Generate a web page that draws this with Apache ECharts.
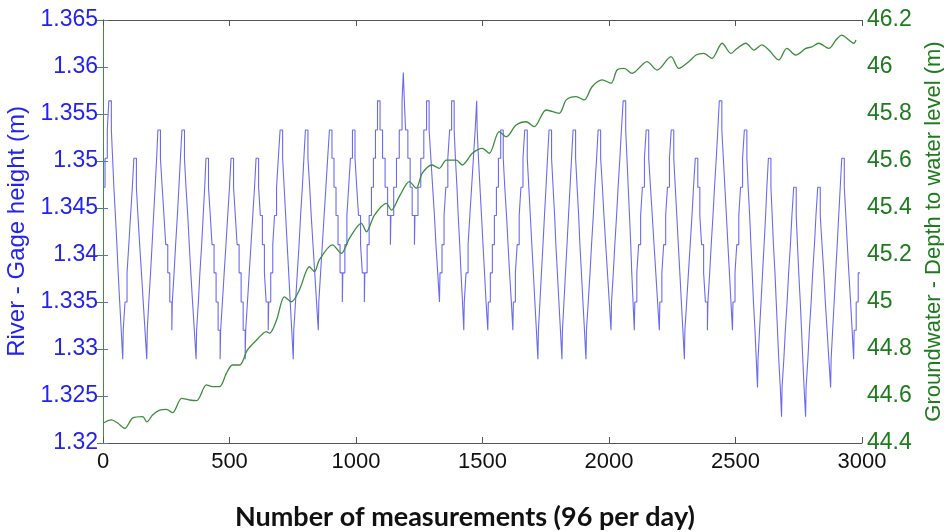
<!DOCTYPE html>
<html>
<head>
<meta charset="utf-8">
<script src="https://cdn.jsdelivr.net/npm/echarts@6/dist/echarts.min.js"></script>
<style>
  html, body { margin: 0; padding: 0; background: #ffffff; }
  #chart { width: 944px; height: 532px; }
</style>
</head>
<body>
<div id="chart"></div>
<script>
// ---- data ----
const xTicks = [0, 500, 1000, 1500, 2000, 2500, 3000];
const gageTicks = [1.32, 1.325, 1.33, 1.335, 1.34, 1.345, 1.35, 1.355, 1.36, 1.365];
const depthTicks = [44.4, 44.6, 44.8, 45, 45.2, 45.4, 45.6, 45.8, 46, 46.2];

// River gage height levels (m), recorded in steps of 0.01 ft
const gageLevels = [1.3228, 1.3259, 1.3289, 1.3320, 1.3350, 1.3381, 1.3411,
                    1.3442, 1.3472, 1.3503, 1.3533, 1.3564, 1.3594];

// River gage: [measurement number, level index] at each step change
const gageSteps = [
  [0,8],[8,9],[17,10],[23,11],
  [33,10],[38,9],[43,8],[49,7],[55,6],[60,5],[66,4],[72,3],[78,2],
  [80,3],[87,4],[95,5],[102,6],[109,7],[116,8],[122,9],
  [132,8],[138,7],[145,6],[152,5],[159,4],[166,3],[173,2],
  [175,3],[181,4],[188,5],[194,6],[200,7],[206,8],[212,9],[217,10],
  [227,9],[234,8],[241,7],[248,6],[256,5],[264,4],[272,3],
  [274,4],[281,5],[287,6],[294,7],[300,8],[306,9],[312,10],
  [322,9],[328,8],[335,7],[341,6],[347,5],[354,4],[361,3],[368,2],
  [370,3],[377,4],[383,5],[390,6],[396,7],[402,8],[407,9],
  [417,8],[424,7],[431,6],[439,5],[447,4],[455,3],[463,2],
  [465,3],[472,4],[479,5],[486,6],[493,7],[500,8],[506,9],
  [516,8],[523,7],[530,6],[538,5],[546,4],[554,3],[562,2],
  [564,3],[571,4],[578,5],[585,6],[592,7],[599,8],[605,9],
  [615,8],[622,7],[630,6],[638,5],[645,4],[653,3],
  [655,4],[663,5],[671,6],[678,7],[686,8],[693,9],[700,10],
  [710,9],[716,8],[722,7],[728,6],[734,5],[740,4],[746,3],[752,2],
  [754,3],[761,4],[768,5],[775,6],[781,7],[788,8],[794,9],[800,10],
  [810,9],[817,8],[823,7],[830,6],[837,5],[844,4],[851,3],
  [853,4],[860,5],[867,6],[874,7],[881,8],[888,9],[895,10],
  [905,9],[913,8],[921,7],[929,6],[937,5],[946,4],
  [948,5],[956,6],[964,7],[971,8],[978,9],[986,10],
  [996,9],[1003,8],[1010,7],[1018,6],[1025,5],[1033,4],
  [1035,5],[1044,6],[1052,7],[1061,8],[1069,9],[1077,10],[1085,11],
  [1095,10],[1105,9],[1115,8],[1125,7],[1136,6],
  [1138,7],[1149,8],[1160,9],[1171,10],[1182,11],[1187,12],[1191,11],
  [1196,10],[1205,9],[1214,8],[1222,7],[1231,6],
  [1233,7],[1245,8],[1256,9],[1268,10],[1279,11],
  [1289,10],[1296,9],[1303,8],[1310,7],[1316,6],[1323,5],[1330,4],
  [1332,5],[1340,6],[1348,7],[1355,8],[1363,9],[1370,10],[1378,11],
  [1388,10],[1393,9],[1399,8],[1404,7],[1410,6],[1415,5],[1421,4],[1426,3],
  [1428,4],[1435,5],[1443,6],[1450,7],[1457,8],[1464,9],[1471,10],[1477,11],[1479,10],
  [1484,9],[1490,8],[1496,7],[1502,6],[1508,5],[1514,4],[1521,3],
  [1523,4],[1531,5],[1539,6],[1547,7],[1555,8],[1563,9],[1572,10],
  [1582,9],[1588,8],[1595,7],[1601,6],[1607,5],[1614,4],[1620,3],
  [1622,4],[1630,5],[1637,6],[1645,7],[1652,8],[1660,9],[1667,10],
  [1677,9],[1683,8],[1689,7],[1695,6],[1701,5],[1707,4],[1713,3],[1719,2],
  [1721,3],[1727,4],[1733,5],[1739,6],[1745,7],[1751,8],[1757,9],[1763,10],
  [1773,9],[1779,8],[1785,7],[1790,6],[1796,5],[1802,4],[1808,3],[1814,2],
  [1816,3],[1822,4],[1828,5],[1834,6],[1840,7],[1846,8],[1852,9],[1858,10],
  [1868,9],[1874,8],[1880,7],[1885,6],[1891,5],[1897,4],[1903,3],[1909,2],
  [1911,3],[1918,4],[1925,5],[1931,6],[1938,7],[1944,8],[1951,9],[1957,10],
  [1967,9],[1974,8],[1980,7],[1987,6],[1994,5],[2001,4],[2008,3],
  [2010,4],[2017,5],[2023,6],[2030,7],[2036,8],[2043,9],[2049,10],[2056,11],
  [2066,10],[2071,9],[2076,8],[2081,7],[2086,6],[2090,5],[2095,4],[2100,3],
  [2102,4],[2110,5],[2117,6],[2125,7],[2132,8],[2140,9],[2147,10],
  [2157,9],[2164,8],[2171,7],[2178,6],[2185,5],[2192,4],[2199,3],
  [2201,4],[2209,5],[2216,6],[2224,7],[2231,8],[2239,9],[2246,10],
  [2256,9],[2262,8],[2268,7],[2274,6],[2280,5],[2286,4],[2292,3],[2298,2],
  [2300,3],[2307,4],[2314,5],[2321,6],[2328,7],[2334,8],[2341,9],
  [2351,8],[2359,7],[2366,6],[2374,5],[2381,4],[2389,3],
  [2391,4],[2398,5],[2404,6],[2411,7],[2417,8],[2424,9],[2430,10],[2436,11],
  [2446,10],[2452,9],[2458,8],[2464,7],[2470,6],[2476,5],[2482,4],[2488,3],
  [2490,4],[2498,5],[2505,6],[2513,7],[2520,8],[2528,9],[2535,10],
  [2545,9],[2550,8],[2556,7],[2561,6],[2566,5],[2571,4],[2577,3],[2582,2],[2587,1],
  [2589,2],[2595,3],[2601,4],[2607,5],[2613,6],[2619,7],[2624,8],[2630,9],
  [2640,8],[2645,7],[2650,6],[2656,5],[2661,4],[2666,3],[2671,2],[2677,1],[2682,0],
  [2684,1],[2691,2],[2697,3],[2704,4],[2710,5],[2717,6],[2723,7],[2730,8],
  [2740,7],[2745,6],[2750,5],[2756,4],[2761,3],[2766,2],[2771,1],[2777,0],
  [2779,1],[2786,2],[2792,3],[2799,4],[2805,5],[2812,6],[2818,7],[2825,8],
  [2835,7],[2842,6],[2849,5],[2855,4],[2862,3],[2869,2],[2876,1],
  [2878,2],[2884,3],[2890,4],[2896,5],[2902,6],[2908,7],[2914,8],[2920,9],
  [2930,8],[2936,7],[2942,6],[2948,5],[2955,4],[2961,3],[2967,2],
  [2969,3],[2977,4],[2985,5],[2992,5]
];

// Groundwater depth to water level (m): [measurement number, value]
const depthPoints = [
  [0,44.484],[33,44.498],[58,44.485],[86,44.462],[117,44.506],[157,44.512],[173,44.490],
  [196,44.519],[224,44.540],[251,44.543],[275,44.529],[311,44.590],[342,44.583],[370,44.580],
  [409,44.647],[433,44.640],[461,44.640],[488,44.697],[512,44.732],[540,44.732],[571,44.796],
  [607,44.838],[646,44.874],[658,44.867],[686,44.923],[717,45.022],[745,45.001],[776,45.051],
  [816,45.150],[836,45.129],[855,45.179],[907,45.243],[942,45.207],[974,45.271],[1021,45.335],
  [1041,45.299],[1073,45.370],[1120,45.420],[1140,45.391],[1171,45.448],[1211,45.512],
  [1238,45.484],[1262,45.548],[1301,45.583],[1329,45.569],[1357,45.604],[1396,45.604],
  [1420,45.583],[1460,45.633],[1499,45.654],[1527,45.633],[1566,45.725],[1594,45.703],
  [1633,45.753],[1673,45.767],[1704,45.746],[1752,45.817],[1803,45.803],[1831,45.860],
  [1870,45.874],[1902,45.860],[1933,45.916],[1973,45.945],[2008,45.931],[2032,45.987],
  [2060,45.994],[2091,45.973],[2150,46.023],[2190,45.987],[2245,46.044],[2276,45.994],
  [2316,46.023],[2344,46.051],[2375,46.058],[2407,46.037],[2447,46.101],[2482,46.058],
  [2506,46.079],[2541,46.101],[2573,46.072],[2604,46.094],[2632,46.072],[2671,46.030],
  [2703,46.079],[2738,46.051],[2778,46.079],[2802,46.086],[2829,46.101],[2869,46.079],
  [2897,46.115],[2920,46.136],[2948,46.115],[2968,46.101],[2976,46.115]
];

// ---- chart ----
const chart = echarts.init(document.getElementById('chart'), null, { renderer: 'canvas' });
const labelFont = '"Liberation Sans", Arial, sans-serif';
const blueText = '#2323ee';
const greenText = '#1f7a1f';

const option = {
  backgroundColor: '#ffffff',
  animation: false,
  grid: { left: 103, right: 82, top: 20, bottom: 89, containLabel: false, outerBoundsMode: 'none' },
  xAxis: [
    {
      type: 'value', position: 'bottom',
      min: xTicks[0], max: xTicks[xTicks.length - 1], interval: 500,
      axisLine: { show: true, lineStyle: { color: '#555555', width: 1 } },
      axisTick: { show: true, inside: true, length: 6, lineStyle: { color: '#555555' } },
      axisLabel: { color: '#111111', fontSize: 22, fontFamily: labelFont, margin: 8,
                   formatter: v => String(v) },
      splitLine: { show: false }
    },
    {
      type: 'value', position: 'top',
      min: xTicks[0], max: xTicks[xTicks.length - 1], interval: 500,
      axisLine: { show: true, lineStyle: { color: '#555555', width: 1 } },
      axisTick: { show: true, inside: true, length: 6, lineStyle: { color: '#555555' } },
      axisLabel: { show: false },
      splitLine: { show: false }
    }
  ],
  yAxis: [
    {
      type: 'value', position: 'left',
      min: gageTicks[0], max: gageTicks[gageTicks.length - 1], interval: 0.005,
      name: 'River - Gage height (m)',
      nameLocation: 'middle', nameRotate: 90, nameGap: 64,
      nameTextStyle: { color: blueText, fontSize: 24, fontFamily: labelFont },
      axisLine: { show: true, lineStyle: { color: '#8888ee', width: 1 } },
      axisTick: { show: true, inside: true, length: 5, lineStyle: { color: '#6666ee' } },
      axisLabel: { color: blueText, fontSize: 23, fontFamily: labelFont, margin: 5 },
      splitLine: { show: false }
    },
    {
      type: 'value', position: 'right',
      min: depthTicks[0], max: depthTicks[depthTicks.length - 1], interval: 0.2,
      name: 'Groundwater - Depth to water level (m)',
      nameLocation: 'middle', nameRotate: 90, nameGap: 59,
      nameTextStyle: { color: greenText, fontSize: 22, fontFamily: labelFont },
      axisLine: { show: true, lineStyle: { color: '#3f8f3f', width: 1 } },
      axisTick: { show: true, inside: true, length: 6, lineStyle: { color: '#3f8f3f' } },
      axisLabel: { color: greenText, fontSize: 23, fontFamily: labelFont, margin: 5 },
      splitLine: { show: false }
    }
  ],
  graphic: [
    {
      type: 'text', x: 465, y: 517,
      style: {
        text: 'Number of measurements (96 per day)',
        font: 'bold 27px Lato, "Open Sans", sans-serif',
        fill: '#111111',
        align: 'center', verticalAlign: 'middle'
      }
    }
  ],
  series: [
    {
      name: 'River - Gage height',
      type: 'line', xAxisIndex: 0, yAxisIndex: 0,
      step: 'end', showSymbol: false, symbol: 'none',
      lineStyle: { color: '#6a6af0', width: 1.1 },
      data: gageSteps.map(([n, k]) => [n, gageLevels[k]]),
      z: 2
    },
    {
      name: 'Groundwater - Depth to water level',
      type: 'line', xAxisIndex: 0, yAxisIndex: 1,
      smooth: 0.3, showSymbol: false, symbol: 'none',
      lineStyle: { color: '#3c8c3c', width: 1.3 },
      data: depthPoints,
      z: 3
    }
  ]
};
chart.setOption(option);
</script>
</body>
</html>
